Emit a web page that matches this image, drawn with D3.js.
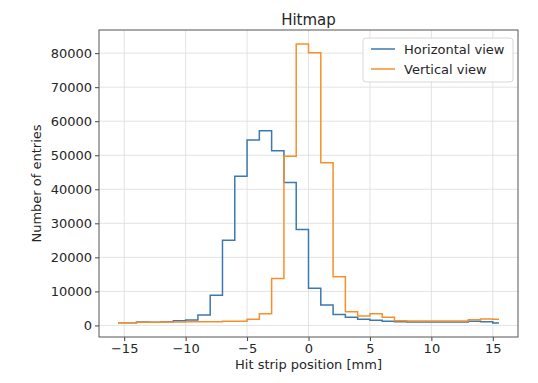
<!DOCTYPE html>
<html>
<head>
<meta charset="utf-8">
<script src="https://cdn.jsdelivr.net/npm/d3@7"></script>
<style>
  body { margin: 0; background: #fff; }
  text { font-family: "DejaVu Sans", sans-serif; fill: #262626; }
</style>
</head>
<body>
<svg id="chart"></svg>
<script>
// strip positions (bin centres, mm)
const positions = d3.range(32).map(i => -15.5 + i);
const horizontalCounts = [800, 800, 1000, 900, 1100, 1400, 1600, 3100, 8900, 25000, 43800, 54500,
    57200, 51300, 42000, 28200, 10900, 6000, 3200, 2400, 1800, 1500, 1200, 1100,
    1000, 1000, 1000, 1000, 1000, 1200, 1100, 700];
const verticalCounts = [800, 800, 900, 900, 1000, 1000, 1100, 1100, 1100, 1200, 1200, 1800,
    3400, 13800, 49700, 82700, 80100, 47800, 14300, 4000, 2800, 3400, 2400, 1400,
    1300, 1300, 1300, 1300, 1300, 1700, 1900, 1800];
const xTicks = [-15, -10, -5, 0, 5, 10, 15];
const yTicks = [0, 10000, 20000, 30000, 40000, 50000, 60000, 70000, 80000];
const seriesNames = ["Horizontal view", "Vertical view"];
const seriesColors = ["#3a7ab0", "#f7902a"];

const margin = {top: 30, right: 20, bottom: 46, left: 99};
const width = 538 - margin.left - margin.right;
const height = 383 - margin.top - margin.bottom;

const svg = d3.select('#chart')
    .attr('width', 538)
    .attr('height', 383);
const g = svg.append('g')
    .attr('transform', 'translate(' + margin.left + ',' + margin.top + ')');

// matplotlib-like 5% margins
const xMin = d3.min(positions), xMax = d3.max(positions);
const xPad = (xMax - xMin) * 0.05;
const allVals = horizontalCounts.concat(verticalCounts);
const yMin = d3.min(allVals), yMax = d3.max(allVals);
const yPad = (yMax - yMin) * 0.05;

const x = d3.scaleLinear().domain([xMin - xPad, xMax + xPad]).range([0, width]);
const y = d3.scaleLinear().domain([yMin - yPad, yMax + yPad]).range([height, 0]);

// grid
g.append('g').selectAll('line.gx').data(xTicks).enter().append('line')
    .attr('x1', d => x(d)).attr('x2', d => x(d))
    .attr('y1', 0).attr('y2', height)
    .attr('stroke', '#dcdcdc').attr('stroke-width', 0.8);
g.append('g').selectAll('line.gy').data(yTicks).enter().append('line')
    .attr('x1', 0).attr('x2', width)
    .attr('y1', d => y(d)).attr('y2', d => y(d))
    .attr('stroke', '#dcdcdc').attr('stroke-width', 0.8);

// axes
const xAxis = g.append('g')
    .attr('transform', 'translate(0,' + height + ')')
    .call(d3.axisBottom(x).tickValues(xTicks).tickSize(4).tickPadding(3)
        .tickFormat(d => d < 0 ? '\u2212' + Math.abs(d) : d));
const yAxis = g.append('g')
    .call(d3.axisLeft(y).tickValues(yTicks).tickSize(4).tickPadding(3).tickFormat(d3.format('d')));
[xAxis, yAxis].forEach(a => {
    a.select('.domain').remove();
    a.selectAll('line').attr('stroke', '#444');
    a.selectAll('text').style('font-size', '13px').attr('fill', '#262626');
});

// step lines
const line = d3.line()
    .x((d, i) => x(positions[i]))
    .y(d => y(d))
    .curve(d3.curveStep);
[horizontalCounts, verticalCounts].forEach((vals, k) => {
    g.append('path')
        .attr('d', line(vals))
        .attr('fill', 'none')
        .attr('stroke', seriesColors[k])
        .attr('stroke-width', 1.5);
});

// frame
g.append('rect')
    .attr('width', width).attr('height', height)
    .attr('fill', 'none').attr('stroke', '#555').attr('stroke-width', 1);

// title and labels
svg.append('text')
    .attr('x', margin.left + width / 2).attr('y', 25)
    .attr('text-anchor', 'middle').style('font-size', '15px')
    .text('Hitmap');
svg.append('text')
    .attr('x', margin.left + width / 2).attr('y', 369)
    .attr('text-anchor', 'middle').style('font-size', '13px')
    .text('Hit strip position [mm]');
svg.append('text')
    .attr('transform', 'translate(41,' + (margin.top + height / 2) + ') rotate(-90)')
    .attr('text-anchor', 'middle').style('font-size', '13px')
    .text('Number of entries');

// legend
const legend = g.append('g').attr('transform', 'translate(' + (width - 155) + ',8)');
legend.append('rect')
    .attr('width', 150).attr('height', 44).attr('rx', 3)
    .attr('fill', 'rgba(255,255,255,0.85)').attr('stroke', '#d8d8d8');
seriesNames.forEach((name, k) => {
    const row = legend.append('g').attr('transform', 'translate(0,' + (11 + k * 20) + ')');
    row.append('line')
        .attr('x1', 8).attr('x2', 32)
        .attr('stroke', seriesColors[k]).attr('stroke-width', 1.5);
    row.append('text')
        .attr('x', 41).attr('y', 4.5)
        .style('font-size', '13px')
        .text(name);
});
</script>
</body>
</html>
